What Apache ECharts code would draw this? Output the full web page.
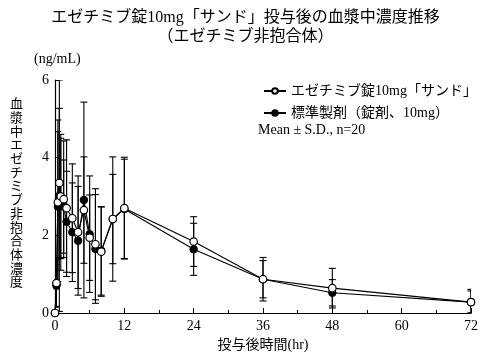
<!DOCTYPE html>
<html><head><meta charset="utf-8">
<script src="https://cdn.jsdelivr.net/npm/echarts@6/dist/echarts.min.js"></script>
<style>html,body{margin:0;padding:0;background:#fff}#c{width:491px;height:357px}</style>
</head><body><div id="c"></div>
<script>
const times = [0,0.25,0.5,0.75,1,1.5,2,3,4,5,6,7,8,10,12,24,36,48,72];
const testMean = [0,0.77,2.85,3.35,3.0,2.93,2.70,2.44,2.08,2.65,1.94,1.77,1.58,2.42,2.70,1.84,0.87,0.64,0.28];
const testSD   = [0,0.60,2.12,1.92,1.6,1.50,1.76,1.40,1.45,1.37,1.10,1.43,1.15,1.60,1.31,0.64,0.56,0.51,0.33];
const refMean  = [0,0.70,2.74,3.02,2.8,2.74,2.35,2.08,1.86,2.91,2.03,1.65,1.60,2.42,2.68,1.64,0.87,0.52,0.28];
const refSD    = [0,0.55,1.93,2.98,1.7,1.20,1.30,1.27,1.40,2.52,1.50,1.40,1.14,1.15,1.28,0.67,0.48,0.34,0.29];
const xTicks = [0,12,24,36,48,60,72];
const yTicks = [0,2,4,6];
const testName = 'エゼチミブ錠10mg「サンド」';
const refName = '標準製剤（錠剤、10mg）';
const FONT = "'Liberation Serif','Noto Sans CJK JP',serif";

function errData(mean, sd){
  return times.map((t,i)=>[t, mean[i]-sd[i], mean[i]+sd[i]]);
}
function renderErr(params, api){
  const x = api.value(0);
  const lo = api.coord([x, Math.max(0, api.value(1))]);
  const hi = api.coord([x, api.value(2)]);
  const w = 3.5;
  const st = {stroke:'#000', lineWidth:1.1};
  return {type:'group', children:[
    {type:'line', shape:{x1:lo[0],y1:lo[1],x2:hi[0],y2:hi[1]}, style:st},
    {type:'line', shape:{x1:hi[0]-w,y1:hi[1],x2:hi[0]+w,y2:hi[1]}, style:st},
    {type:'line', shape:{x1:lo[0]-w,y1:lo[1],x2:lo[0]+w,y2:lo[1]}, style:st}
  ]};
}
const chart = echarts.init(document.getElementById('c'));
chart.setOption({
  animation:false,
  backgroundColor:'#fff',
  textStyle:{fontFamily:FONT,color:'#000'},
  title:{text:'エゼチミブ錠10mg「サンド」投与後の血漿中濃度推移\n（エゼチミブ非抱合体）',
    left:'center', top:3,
    textStyle:{fontFamily:FONT,fontSize:16,fontWeight:'normal',color:'#000',lineHeight:19}},
  grid:{left:55,right:20,top:80,bottom:44,containLabel:false},
  legend:{orient:'vertical',left:258,top:79,itemGap:8,itemWidth:22,itemHeight:7,
    data:[testName, refName],
    textStyle:{fontFamily:FONT,fontSize:14,color:'#000'}},
  xAxis:{type:'value',min:0,max:72,interval:12,
    axisLine:{lineStyle:{color:'#000',width:1.2}},
    axisTick:{inside:true,length:5,lineStyle:{color:'#000'}},
    minorTick:{show:true,splitNumber:2,length:3,lineStyle:{color:'#000'}},
    splitLine:{show:false},
    axisLabel:{fontFamily:FONT,fontSize:14,color:'#000',margin:6,
      formatter:v=>xTicks.includes(v)?String(v):''},
    name:'投与後時間(hr)',nameLocation:'middle',nameGap:24,
    nameTextStyle:{fontFamily:FONT,fontSize:14,color:'#000',padding:[0,0,0,0]}},
  yAxis:{type:'value',min:0,max:6,interval:2,
    axisLine:{show:true,lineStyle:{color:'#000',width:1.2}},
    axisTick:{show:true,inside:true,length:5,lineStyle:{color:'#000'}},
    splitLine:{show:false},
    axisLabel:{fontFamily:FONT,fontSize:14,color:'#000',margin:6,
      formatter:v=>yTicks.includes(v)?String(v):''}},
  graphic:[
    {type:'text',left:34,top:52,style:{text:'(ng/mL)',font:'14px '+FONT,fill:'#000'}},
    {type:'text',left:10,top:98,style:{text:'血\n漿\n中\nエ\nゼ\nチ\nミ\nブ\n非\n抱\n合\n体\n濃\n度',
      font:'13px '+FONT,fill:'#000',lineHeight:13.7}},
    {type:'text',left:258,top:123,style:{text:'Mean ± S.D., n=20',font:'14px '+FONT,fill:'#000'}}
  ],
  series:[
    {type:'custom',name:'errTest',renderItem:renderErr,data:errData(testMean,testSD),z:1,clip:true},
    {type:'custom',name:'errRef',renderItem:renderErr,data:errData(refMean,refSD),z:1,clip:true},
    {type:'line',name:refName,data:times.map((t,i)=>[t,refMean[i]]),
      symbol:'circle',symbolSize:7.5,showSymbol:true,
      lineStyle:{color:'#000',width:1.1},
      itemStyle:{color:'#000',borderColor:'#000',borderWidth:1},z:3},
    {type:'line',name:testName,data:times.map((t,i)=>[t,testMean[i]]),
      symbol:'circle',symbolSize:7.5,showSymbol:true,
      lineStyle:{color:'#000',width:1.1},
      itemStyle:{color:'#fff',borderColor:'#000',borderWidth:1.2},z:4}
  ]
});
</script></body></html>
